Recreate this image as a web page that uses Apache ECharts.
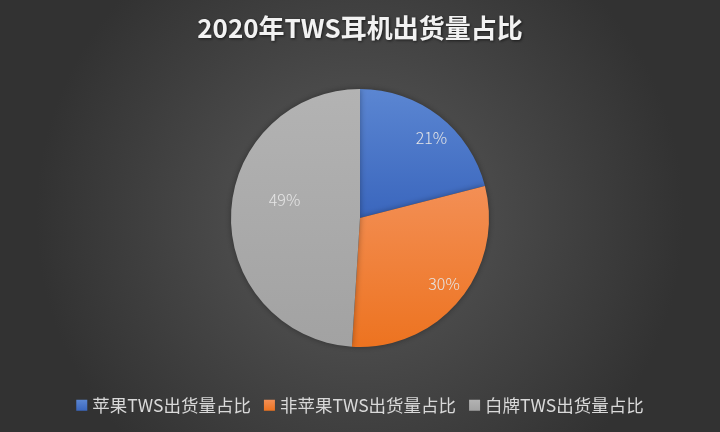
<!DOCTYPE html>
<html>
<head>
<meta charset="utf-8">
<script src="https://cdn.jsdelivr.net/npm/echarts@6/dist/echarts.min.js"></script>
<style>
  html, body { margin: 0; padding: 0; }
  #chart { width: 720px; height: 432px; }
</style>
</head>
<body>
<div id="chart"></div>
<script>
var titleText = '2020年TWS耳机出货量占比';
var categories = ['苹果TWS出货量占比', '非苹果TWS出货量占比', '白牌TWS出货量占比'];
var shares = [21, 30, 49];

var chart = echarts.init(document.getElementById('chart'));

// top / bottom colour of each slice (Excel-like soft gradient)
var sliceColors = [
    ['#5b86d2', '#3a66bd'],
    ['#f38f55', '#ed7320'],
    ['#b3b3b3', '#a2a2a2']
];
// Excel puts the labels further out than ECharts 'inside'
var labelOffsets = [[30, -27], [32, 23], [-8, -16]];

function grad(c) {
    return new echarts.graphic.LinearGradient(0, 0, 0, 1, [
        {offset: 0, color: c[0]},
        {offset: 1, color: c[1]}
    ]);
}

var pieData = categories.map(function (name, i) {
    return {
        name: name,
        value: shares[i],
        itemStyle: {color: grad(sliceColors[i])},
        label: {offset: labelOffsets[i]}
    };
});

var option = {
    backgroundColor: {
        type: 'radial', x: 0.5, y: 0.5, r: 0.75,
        colorStops: [
            {offset: 0, color: '#5a5a5a'},
            {offset: 1, color: '#323232'}
        ]
    },
    color: sliceColors.map(function (c) { return c[1]; }),
    title: {
        text: titleText,
        left: 'center',
        top: 10,
        textStyle: {
            color: '#f2f2f2',
            fontSize: 26,
            fontWeight: 'bold',
            fontFamily: 'Noto Sans CJK SC',
            textShadowColor: 'rgba(0,0,0,0.6)',
            textShadowBlur: 3,
            textShadowOffsetX: 1,
            textShadowOffsetY: 1
        }
    },
    legend: {
        data: categories,
        bottom: 13,
        left: 'center',
        icon: 'rect',
        itemWidth: 11,
        itemHeight: 11,
        itemGap: 13,
        textStyle: {
            color: '#d9d9d9',
            fontSize: 17.5,
            fontFamily: 'Noto Sans CJK SC',
            padding: [0, 0, 0, 0]
        }
    },
    series: [
        {
            type: 'pie',
            center: [360, 218],
            radius: 129,
            startAngle: 90,
            clockwise: true,
            data: pieData,
            label: {
                show: true,
                position: 'inside',
                formatter: '{c}%',
                color: '#e6e6e6',
                fontSize: 16,
                fontWeight: 300,
                fontFamily: 'Noto Sans CJK SC'
            },
            labelLine: {show: false},
            itemStyle: {
                borderWidth: 0,
                shadowColor: 'rgba(0,0,0,0.35)',
                shadowBlur: 6
            },
            emphasis: {disabled: true}
        }
    ]
};

chart.setOption(option);
</script>
</body>
</html>
